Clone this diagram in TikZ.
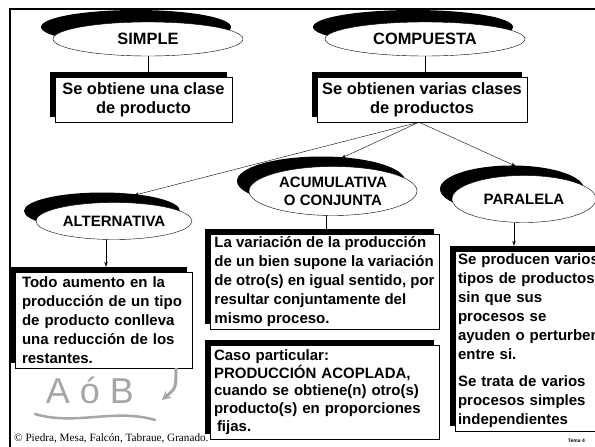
\documentclass[tikz,border=0pt]{standalone}
\usepackage{fontspec}
\setmainfont{Liberation Sans}
\newfontfamily\seriffont{Liberation Serif}
\usetikzlibrary{shapes.geometric, shadows, arrows.meta}

\newcommand{\bigtxt}{\fontsize{16.4}{19}\selectfont\bfseries}
\newcommand{\ovaltxt}{\fontsize{15}{18}\selectfont\bfseries}
\newcommand{\boxtxt}{\fontsize{15}{19}\selectfont\bfseries}
\newcommand{\casotxt}{\fontsize{15}{17.8}\selectfont\bfseries}

\tikzset{
  oval/.style={ellipse, draw, thin, fill=white, inner sep=0pt, align=center,
    drop shadow={shadow xshift=-12pt, shadow yshift=#1, fill=black, opacity=1}},
  oval/.default=10pt,
  sbox/.style={draw, thin, fill=white, inner sep=0pt,
    drop shadow={shadow xshift=-5pt, shadow yshift=5pt, fill=black, opacity=1}},
  link/.style={thin},
  arr/.style={thin, -{Stealth[length=5pt, width=3.5pt]}}
}

\begin{document}
\begin{tikzpicture}[x=1pt, y=-1pt]
\useasboundingbox (0,0) rectangle (595,447);
\clip (0,0) rectangle (595,447);

% Frame
\draw[line width=1.5pt] (10,9) rectangle (650,470);

% Top level
\node[oval=12pt, minimum width=190pt, minimum height=34pt, font=\bigtxt] (simple) at (148,39) {SIMPLE};
\node[oval=12pt, minimum width=200pt, minimum height=34pt, font=\bigtxt] (comp) at (425,39) {COMPUESTA};

\node[sbox, minimum width=177pt, minimum height=45pt, align=center, font=\bigtxt] (obt1) at (143.5,99.5) {Se obtiene una clase\\de producto};
\node[sbox, minimum width=210pt, minimum height=45pt, align=center, font=\bigtxt] (obt2) at (422,99.5) {Se obtienen varias clases\\de productos};

% Kinds of compound production
\node[oval, minimum width=156pt, minimum height=37pt, font=\ovaltxt] (alt) at (114,221) {ALTERNATIVA};
\node[oval, minimum width=168pt, minimum height=49pt, font=\ovaltxt] (acum) at (333,191) {ACUMULATIVA\\O CONJUNTA};
\node[oval, minimum width=144pt, minimum height=47pt, font=\ovaltxt] (par) at (524,199) {PARALELA};

% Descriptions
\node[sbox, text width=163pt, inner xsep=7pt, minimum height=96pt, align=left, font=\boxtxt] (altbox) at (103.5,320)
  {Todo aumento en la\\producción de un tipo\\de producto conlleva\\una reducción de los\\restantes.};
\node[sbox, minimum width=229pt, minimum height=95pt, align=left, font=\boxtxt] (acumbox) at (324.5,281.5)
  {La variación de la producción\\de un bien supone la variación\\de otro(s) en igual sentido, por\\resultar conjuntamente del\\mismo proceso.};
\node[sbox, text width=221pt, inner xsep=4pt, minimum height=94pt, align=left, font=\casotxt] (caso) at (324.5,392)
  {Caso particular:\\PRODUCCIÓN ACOPLADA,\\cuando se obtiene(n) otro(s)\\producto(s) en proporciones\\\hspace*{3pt}fijas.};
\node[sbox, text width=158pt, inner xsep=3pt, minimum height=180pt, align=left, font=\boxtxt] (parbox) at (537,341)
  {Se producen varios\\tipos de productos\\sin que sus\\procesos se\\ayuden o perturben\\entre si.\\[8pt]Se trata de varios\\procesos simples\\independientes};

% Connectors
\draw[link] (simple.south) -- (simple.south |- obt1.north);
\draw[link] (comp.south) -- (comp.south |- obt2.north);
\coordinate (fork) at ([xshift=-3pt]obt2.south);
\draw[arr] (fork) -- ([xshift=20pt, yshift=7pt]alt.north);
\draw[arr] (fork) -- ([xshift=8pt, yshift=8pt]acum.north);
\draw[arr] (fork) -- ([xshift=-8pt, yshift=9pt]par.north);

\coordinate (altfrom) at ([xshift=-8pt]alt.south);
\coordinate (altto) at ([yshift=5pt]altbox.north);
\draw[arr] (altfrom) -- (altfrom |- altto);
\coordinate (acumfrom) at ([xshift=-7pt]acum.south);
\draw[link] (acumfrom) -- (acumfrom |- acumbox.north);
\coordinate (parfrom) at ([xshift=-10pt]par.south);
\coordinate (parto) at ([yshift=5pt]parbox.north);
\draw[arr] (parfrom) -- (parfrom |- parto);

% Handwritten note
\node[text=black!35, font=\fontsize{36}{36}\selectfont] (nota) at (90,390) {A\hspace{10pt}ó\hspace{10pt}B};
\draw[black!35, line width=2.5pt, line cap=round] (35,414) .. controls (75,426) and (115,408) .. (155,420);
\draw[black!35, line width=3pt, -{Stealth[length=9pt, width=9pt]}] (176,368) .. controls (176,388) .. (162,400);

% Footer
\node[font=\seriffont\fontsize{11.2}{12}\selectfont, anchor=base west, inner sep=0pt] (credit) at (14,441) {© Piedra, Mesa, Falcón, Tabraue, Granado.};
\node[font=\fontsize{5}{6}\selectfont\bfseries, anchor=base east, inner sep=0pt] (tema) at (585,442) {Tema 4};
\end{tikzpicture}
\end{document}
